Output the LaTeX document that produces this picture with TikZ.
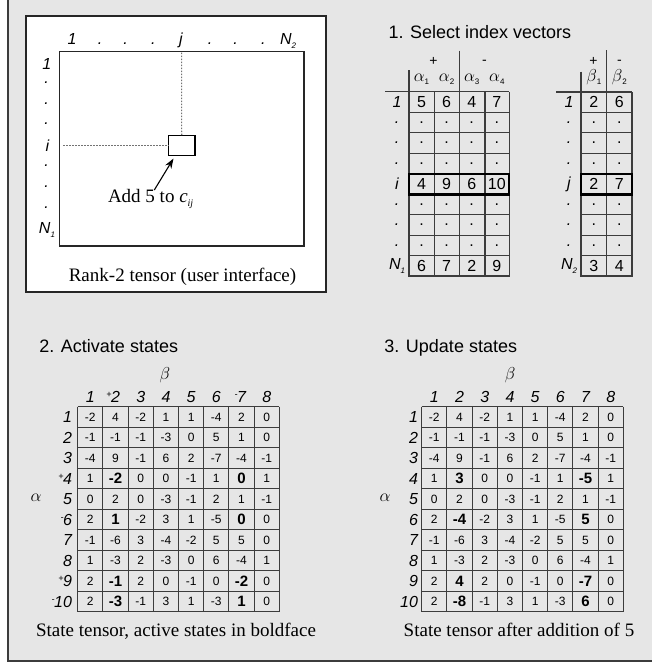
\documentclass[tikz,border=0pt]{standalone}
\usepackage{fontspec}
\setmainfont{Liberation Serif}
\setsansfont{Liberation Sans}
\newfontfamily\arial{Liberation Sans}
\usetikzlibrary{arrows.meta}
\definecolor{bggray}{RGB}{230,230,230}
\definecolor{linegray}{RGB}{60,60,60}
\newcommand\supsign[1]{\raisebox{5pt}{\fontsize{9}{9}\selectfont #1}\kern-0.5pt}
\newcommand\bnum[1]{{\fontsize{15}{15}\selectfont\bfseries #1}}
\newcommand\lowsub[1]{\raisebox{-4pt}{\fontsize{8}{8}\selectfont #1}}
\newcommand\greeksub[2]{{\fontsize{16}{16}\selectfont$#1$}{\arial\fontsize{8}{8}\selectfont\raisebox{-3pt}{#2}}}
\begin{document}
\begin{tikzpicture}[x=1pt,y=-1pt,
  every node/.style={inner sep=0pt, outer sep=0pt},
  ttl/.style={font=\arial\fontsize{18}{18}\selectfont, anchor=base west},
  ilab/.style={font=\arial\itshape\fontsize{16}{16}\selectfont},
  captxt/.style={font=\fontsize{19}{19}\selectfont, anchor=base},
  num/.style={font=\arial\fontsize{16}{16}\selectfont},
  snum/.style={font=\arial\fontsize{12}{12}\selectfont},
  sgn/.style={font=\arial\fontsize{14}{14}\selectfont},
  grid/.style={draw=linegray, line width=1.1pt},
  thick box/.style={draw=black, line width=2.2pt},
  dotline/.style={draw=black!55, line width=1.2pt, dash pattern=on 1.5pt off 1.5pt}
]
\useasboundingbox (0,0) rectangle (652,664);
% background and frame
\fill[white] (0,0) rectangle (652,664);
\fill[bggray] (8,-5) rectangle (660,661);
\draw[draw=linegray, line width=1.5pt] (8,-5) -- (8,661) -- (660,661);

% ---------------- panel: rank-2 tensor ----------------
\draw[fill=white, draw=black!85, line width=1.1pt] (26,16) rectangle (326,292);
\draw[draw=black!85, line width=1.1pt] (59.3,51.7) rectangle (304,246);
\node[draw=black, line width=1.1pt, minimum width=26.7pt, minimum height=20.4pt, anchor=north west] (cij) at (168.3,135.3) {};
\coordinate (vtop) at (181.6,52.5);
\coordinate (hleft) at (63,145.5);
\draw[dotline] (vtop) -- (cij.north);
\draw[dotline] (hleft) -- (cij.west);
% top labels
\node[ilab, anchor=base] (c1) at (72,44.5) {1};
\foreach \x [count=\n] in {100,125.7,153.3,210,235.7,263.3}
  \node[ilab, anchor=base] (cd\n) at (\x,44.5) {.};
\node[ilab, anchor=base] (cj) at (181,44.5) {j};
\node[ilab, anchor=base] (cN) at (288,44.5) {N\lowsub{2}};
% left labels
\node[ilab, anchor=base] (r1) at (46.7,69) {1};
\foreach \y [count=\n] in {83,103.5,124,165.5,186.5,207.5}
  \node[ilab] (rd\n) at (46.7,\y) {.};
\node[ilab, anchor=base] (ri) at (47.3,151.7) {i};
\node[ilab, anchor=base] (rN) at (47,233) {N\lowsub{1}};
% arrow and caption
\node[font=\fontsize{19}{19}\selectfont, anchor=base west] (addtxt) at (108,202) {Add 5 to \textit{c}\raisebox{-4pt}{\fontsize{10}{10}\selectfont\textit{ij}}};
\coordinate (arrs) at (154.3,190);
\coordinate (arrt) at (173.5,158.5);
\draw[line width=1.1pt, -{Stealth[length=10pt, width=7pt]}] (arrs) -- (arrt);
\node[captxt] (cap1) at (182.5,281.7) {Rank-2 tensor (user interface)};

% ---------------- panel 1: index vectors ----------------
\node[ttl] (t1) at (388.5,38.5) {1. Select index vectors};
% alpha table
\draw[grid] (385,91.7) -- (509.3,91.7);
\draw[grid] (409,70) -- (409,276) -- (509.3,276) -- (509.3,91.7);
\draw[grid] (459.3,50.7) -- (459.3,276);
\foreach \x in {434.3,485} \draw[grid] (\x,91.7) -- (\x,276);
\foreach \k in {1,...,8} \draw[grid] (409,{91.7+20.5*\k}) -- (509.3,{91.7+20.5*\k});
\draw[thick box] (409,174) rectangle (509.3,194.5);
\node[sgn] (ap) at (433.5,61.5) {+};
\node[sgn] (am) at (484.5,62) {-};
\foreach \x [count=\n] in {421.5,446.6,471.7,496.8}
  \node[anchor=base] (ah\n) at (\x,81) {\greeksub{\alpha}{\n}};
\foreach \a/\b/\c/\d [count=\k] in {5/6/4/7,./././.,./././.,./././.,4/9/6/10,./././.,./././.,./././.,6/7/2/9}{
  \node[num] (ta-\k-1) at (421.5,{91.7+20.5*(\k-0.5)}) {\a};
  \node[num] (ta-\k-2) at (446.6,{91.7+20.5*(\k-0.5)}) {\b};
  \node[num] (ta-\k-3) at (471.7,{91.7+20.5*(\k-0.5)}) {\c};
  \node[num] (ta-\k-4) at (496.8,{91.7+20.5*(\k-0.5)}) {\d};
}
\foreach \h [count=\k] in {1,.,.,.,i,.,.,.,N\lowsub{1}}
  \node[ilab] (tar-\k) at (397,{91.7+20.5*(\k-0.5)}) {\h};
% beta table
\draw[grid] (556,92) -- (632,92);
\draw[grid] (581,71.7) -- (581,276) -- (632,276) -- (632,92);
\draw[grid] (606.7,50) -- (606.7,276);
\foreach \k in {1,...,8} \draw[grid] (581,{91.7+20.5*\k}) -- (632,{91.7+20.5*\k});
\draw[thick box] (581,174) rectangle (632,194.5);
\node[sgn] (bp) at (593.5,61) {+};
\node[sgn] (bm) at (619.5,62) {-};
\foreach \x [count=\n] in {593.8,619.3}
  \node[anchor=base] (bh\n) at (\x,81) {\greeksub{\beta}{\n}};
\foreach \a/\b [count=\k] in {2/6,./.,./.,./.,2/7,./.,./.,./.,3/4}{
  \node[num] (tb-\k-1) at (593.8,{91.7+20.5*(\k-0.5)}) {\a};
  \node[num] (tb-\k-2) at (619.3,{91.7+20.5*(\k-0.5)}) {\b};
}
\foreach \h [count=\k] in {1,.,.,.,j,.,.,.,N\lowsub{2}}
  \node[ilab] (tbr-\k) at (569,{91.7+20.5*(\k-0.5)}) {\h};

% ---------------- panel 2: activate states ----------------
\node[ttl] (t2) at (39.3,352.5) {2. Activate states};
\node (Lbeta) at (165,375) {\fontsize{16}{16}\selectfont$\beta$};
\node (Lalpha) at (36,498) {\fontsize{16}{16}\selectfont$\alpha$};
\foreach \j in {0,...,8} \draw[grid] ({77.7+25.2*\j},406.7) -- ({77.7+25.2*\j},611.7);
\foreach \i in {0,...,10} \draw[grid] (77.7,{406.7+20.5*\i}) -- (279.3,{406.7+20.5*\i});
\foreach \h [count=\j] in {1,\supsign{+}2,3,4,5,6,\supsign{-}7,8}
  \node[ilab, anchor=base east] (LH-\j) at ({77.7+25.2*(\j-0.5)+4.5},402.7) {\h};
\foreach \h [count=\i] in {1,2,3,\supsign{+}4,5,\supsign{-}6,7,8,\supsign{+}9,\supsign{-}10}
  \node[ilab, anchor=base east] (LR-\i) at (72,{406.7+20.5*(\i-0.5)+5.7}) {\h};
\foreach \row [count=\i] in {
  {-2,4,-2,1,1,-4,2,0},
  {-1,-1,-1,-3,0,5,1,0},
  {-4,9,-1,6,2,-7,-4,-1},
  {1,\bnum{-2},0,0,-1,1,\bnum{0},1},
  {0,2,0,-3,-1,2,1,-1},
  {2,\bnum{1},-2,3,1,-5,\bnum{0},0},
  {-1,-6,3,-4,-2,5,5,0},
  {1,-3,2,-3,0,6,-4,1},
  {2,\bnum{-1},2,0,-1,0,\bnum{-2},0},
  {2,\bnum{-3},-1,3,1,-3,\bnum{1},0}}{
  \foreach \v [count=\j] in \row
    \node[snum] (L-\i-\j) at ({77.7+25.2*(\j-0.5)},{406.7+20.5*(\i-0.5)}) {\v};
}
\node[captxt] (cap2) at (176,636.5) {State tensor, active states in boldface};

% ---------------- panel 3: update states ----------------
\node[ttl] (t3) at (384.3,352.5) {3. Update states};
\node (Rbeta) at (510,375) {\fontsize{16}{16}\selectfont$\beta$};
\node (Ralpha) at (385,498) {\fontsize{16}{16}\selectfont$\alpha$};
\foreach \j in {0,...,8} \draw[grid] ({421.7+25.2*\j},406.7) -- ({421.7+25.2*\j},611.7);
\foreach \i in {0,...,10} \draw[grid] (421.7,{406.7+20.5*\i}) -- (623.3,{406.7+20.5*\i});
\foreach \h [count=\j] in {1,...,8}
  \node[ilab, anchor=base east] (RH-\j) at ({421.7+25.2*(\j-0.5)+4.5},402.7) {\h};
\foreach \h [count=\i] in {1,...,10}
  \node[ilab, anchor=base east] (RR-\i) at (418,{406.7+20.5*(\i-0.5)+5.7}) {\h};
\foreach \row [count=\i] in {
  {-2,4,-2,1,1,-4,2,0},
  {-1,-1,-1,-3,0,5,1,0},
  {-4,9,-1,6,2,-7,-4,-1},
  {1,\bnum{3},0,0,-1,1,\bnum{-5},1},
  {0,2,0,-3,-1,2,1,-1},
  {2,\bnum{-4},-2,3,1,-5,\bnum{5},0},
  {-1,-6,3,-4,-2,5,5,0},
  {1,-3,2,-3,0,6,-4,1},
  {2,\bnum{4},2,0,-1,0,\bnum{-7},0},
  {2,\bnum{-8},-1,3,1,-3,\bnum{6},0}}{
  \foreach \v [count=\j] in \row
    \node[snum] (R-\i-\j) at ({421.7+25.2*(\j-0.5)},{406.7+20.5*(\i-0.5)}) {\v};
}
\node[captxt] (cap3) at (519,636.5) {State tensor after addition of 5};
\end{tikzpicture}
\end{document}
